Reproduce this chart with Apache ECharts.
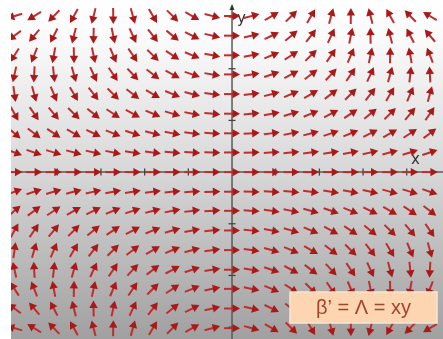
<!DOCTYPE html>
<html>
<head>
<meta charset="utf-8">
<script src="https://cdn.jsdelivr.net/npm/echarts@6/dist/echarts.min.js"></script>
<style>html,body{margin:0;padding:0;background:#fff}#c{width:443px;height:339px}</style>
</head>
<body>
<div id="c"></div>
<script>
// Arrow grid positions (data units; axis ticks at integer units)
const colX = [-4.98, -4.53, -4.08, -3.62, -3.17, -2.72, -2.27, -1.81, -1.36, -0.91, -0.45, 0, 0.45, 0.91, 1.36, 1.81, 2.27, 2.72, 3.17, 3.62, 4.08, 4.53];
const rowY = [-3.02, -2.64, -2.26, -1.89, -1.51, -1.13, -0.75, -0.38, 0, 0.38, 0.75, 1.13, 1.51, 1.89, 2.26, 2.64, 3.02];
// Field: arrow angle Λ = xy (scaled, radians per unit²)
const angleScale = 0.19;
const xTicks = [-4, -3, -2, -1, 1, 2, 3, 4];
const yTicks = [-3, -2, -1, 1, 2, 3];
const formulaText = 'β’ = Λ = xy';
const axisNames = ['x', 'y'];

const field = [];
rowY.forEach(y => colX.forEach(x => field.push([x, y, angleScale * x * y])));

const chart = echarts.init(document.getElementById('c'));
chart.setOption({
  animation: false,
  grid: { left: 11, right: 0, top: 0, bottom: 0, show: true, borderWidth: 0,
    backgroundColor: new echarts.graphic.LinearGradient(0, 0, 0, 1, [
      { offset: 0, color: '#ffffff' },
      { offset: 0.12, color: '#fafafa' },
      { offset: 0.5, color: '#d8d8d8' },
      { offset: 1, color: '#a0a0a0' }
    ]) },
  xAxis: { type: 'value', min: -5.06, max: 4.83, show: false },
  yAxis: { type: 'value', min: -3.23, max: 3.33, show: false },
  series: [
    {
      type: 'custom', z: 1, silent: true, clip: true,
      data: [[0, 0]],
      renderItem: function (params, api) {
        const o = api.coord([0, 0]);
        const ch = [];
        const col = '#5a5a5a';
        ch.push({ type: 'line', shape: { x1: 11, y1: o[1], x2: 443, y2: o[1] }, style: { stroke: col, lineWidth: 1.5 } });
        ch.push({ type: 'line', shape: { x1: o[0], y1: 9, x2: o[0], y2: 339 }, style: { stroke: col, lineWidth: 1.5 } });
        ch.push({ type: 'polygon', shape: { points: [[o[0], 4], [o[0] - 2.5, 10], [o[0] + 2.5, 10]] }, style: { fill: '#333' } });
        xTicks.forEach(t => { const p = api.coord([t, 0]); ch.push({ type: 'line', shape: { x1: p[0], y1: p[1] - 3.5, x2: p[0], y2: p[1] + 3.5 }, style: { stroke: '#444', lineWidth: 1.3 } }); });
        yTicks.forEach(t => { const p = api.coord([0, t]); ch.push({ type: 'line', shape: { x1: p[0] - 3.5, y1: p[1], x2: p[0] + 3.5, y2: p[1] }, style: { stroke: '#444', lineWidth: 1.3 } }); });
        ch.push({ type: 'text', x: 237, y: 19, style: { text: axisNames[1], fill: '#333', font: '15px "DejaVu Sans", sans-serif', verticalAlign: 'middle' } });
        ch.push({ type: 'text', x: 411, y: 160, style: { text: axisNames[0], fill: '#333', font: '15px "DejaVu Sans", sans-serif', verticalAlign: 'middle' } });
        return { type: 'group', children: ch };
      }
    },
    {
      type: 'custom', z: 3, silent: true, clip: true,
      data: field,
      renderItem: function (params, api) {
        const c = api.coord([api.value(0), api.value(1)]);
        const a = api.value(2);
        const dx = Math.cos(a), dy = -Math.sin(a);
        const L = 16, H = 7.5, W = 4.2;
        const tail = [c[0] - dx * L / 2, c[1] - dy * L / 2];
        const tip = [c[0] + dx * L / 2, c[1] + dy * L / 2];
        const base = [tip[0] - dx * H, tip[1] - dy * H];
        const px = -dy, py = dx;
        return { type: 'group', children: [
          { type: 'line', shape: { x1: tail[0], y1: tail[1], x2: base[0] + dx, y2: base[1] + dy },
            style: { stroke: '#bf2e2e', lineWidth: 2 } },
          { type: 'polygon', shape: { points: [tip, [base[0] + px * W, base[1] + py * W], [base[0] - px * W, base[1] - py * W]] },
            style: { fill: '#a81a1a' } }
        ] };
      }
    },
    {
      type: 'custom', z: 10, silent: true, clip: false,
      data: [[0, 0]],
      renderItem: function () {
        return { type: 'group', x: 290, y: 292, children: [
          { type: 'rect', shape: { x: 0, y: 0, width: 147, height: 31 },
            style: { fill: '#fdd5b0', stroke: '#fbe4cf', lineWidth: 1.5 } },
          { type: 'text', x: 73.5, y: 16,
            style: { text: formulaText, fill: '#a3442c', font: '20px "Liberation Sans", Arial, sans-serif',
                     align: 'center', verticalAlign: 'middle' } }
        ] };
      }
    }
  ]
});
</script>
</body>
</html>
